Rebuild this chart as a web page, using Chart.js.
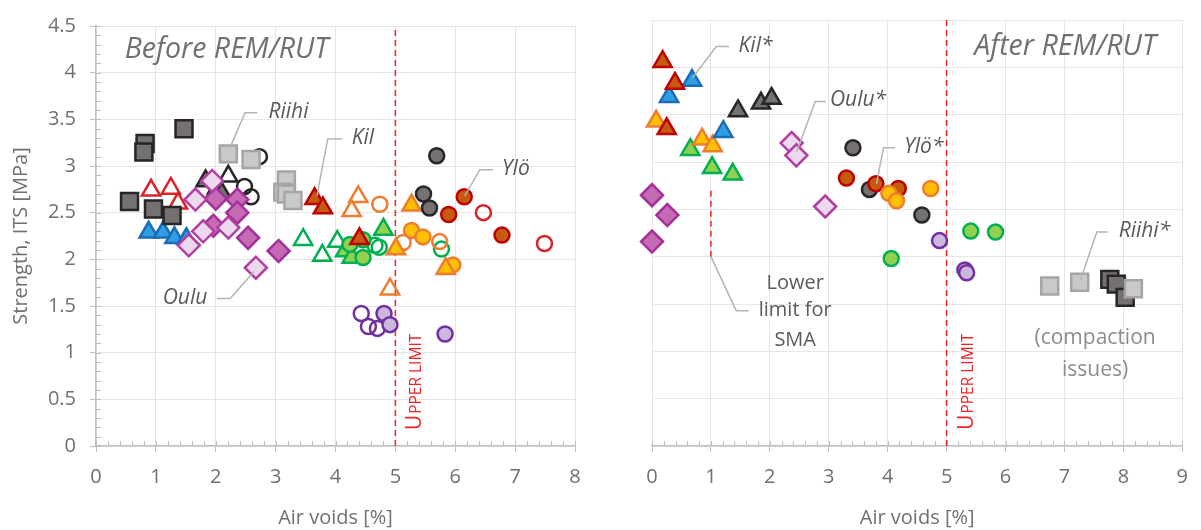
<!DOCTYPE html>
<html>
<head>
<meta charset="utf-8">
<script src="https://cdn.jsdelivr.net/npm/chart.js@4.4.1/dist/chart.umd.min.js"></script>
<style>
  body { margin: 0; background: #fff; }
  #wrap { position: relative; width: 1201px; height: 530px; }
  canvas { position: absolute; top: 0; }
</style>
</head>
<body>
<div id="wrap">
  <canvas id="before" width="600" height="530" style="left:0"></canvas>
  <canvas id="after" width="601" height="530" style="left:600px"></canvas>
</div>
<script>
// ---- data: [air voids %, ITS MPa] ----
// before REM/RUT
const riihiDarkBefore = [[0.56, 2.62], [0.82, 3.24], [0.80, 3.15], [0.96, 2.54], [1.27, 2.47], [1.47, 3.40]];
const riihiBefore = [[2.21, 3.13], [2.59, 3.07], [3.18, 2.85], [3.12, 2.72], [3.18, 2.70], [3.29, 2.63]];
const blackCircOpenBefore = [[2.73, 3.10], [2.48, 2.78], [2.59, 2.67]];
const blackTriOpenBefore = [[2.21, 2.89], [2.02, 2.76]];
const greyTriBefore = [[1.83, 2.84], [2.10, 2.71]];
const redTriOpenBefore = [[0.92, 2.74], [1.25, 2.76], [1.37, 2.60]];
const blueTriBefore = [[0.88, 2.29], [1.12, 2.29], [1.31, 2.23], [1.51, 2.22]];
const ouluDarkBefore = [[2.00, 2.65], [2.36, 2.64], [2.36, 2.50], [1.96, 2.36], [2.54, 2.23], [3.05, 2.09]];
const ouluBefore = [[1.94, 2.84], [1.66, 2.64], [1.79, 2.30], [1.55, 2.15], [2.21, 2.34], [2.67, 1.91]];
const greenTriOpenBefore = [[3.46, 2.21], [4.03, 2.19], [3.78, 2.04]];
const greenCircOpenBefore = [[4.66, 2.15], [4.73, 2.13], [5.77, 2.11]];
const orangeTriOpenBefore = [[4.38, 2.67], [4.27, 2.52], [4.91, 1.68]];
const orangeCircOpenBefore = [[4.74, 2.59], [5.13, 2.18], [5.74, 2.19]];
const purpleCircOpenBefore = [[4.43, 1.42], [4.55, 1.28], [4.70, 1.26]];
const redCircOpenBefore = [[6.47, 2.50], [7.49, 2.17]];
const greenTriBefore = [[4.16, 2.09], [4.27, 2.02], [4.80, 2.32]];
const greenCircBefore = [[4.24, 2.16], [4.46, 2.21], [4.46, 2.02]];
const purpleCircBefore = [[4.81, 1.42], [4.91, 1.30], [5.83, 1.20]];
const yellowCircBefore = [[5.27, 2.31], [5.46, 2.24], [5.96, 1.94]];
const yellowTriBefore = [[5.27, 2.58], [5.01, 2.11], [5.84, 1.90]];
const darkCircBefore = [[5.69, 3.11], [5.47, 2.70], [5.57, 2.55]];
const yloBefore = [[6.15, 2.67], [5.89, 2.48], [6.78, 2.26]];
const kilBefore = [[3.65, 2.65], [3.79, 2.55], [4.40, 2.22]];

// after REM/RUT
const kilAfter = [[0.18, 4.06], [0.39, 3.83], [0.25, 3.35]];
const blueTriAfter = [[0.68, 3.86], [0.29, 3.69], [1.21, 3.32]];
const greyTriAfter = [[1.46, 3.54], [1.85, 3.62], [2.03, 3.67]];
const yellowTriAfter = [[0.07, 3.43], [0.85, 3.24], [1.03, 3.17]];
const greenTriAfter = [[0.65, 3.13], [1.02, 2.94], [1.37, 2.87]];
const ouluDarkAfter = [[0.00, 2.65], [0.26, 2.44], [0.00, 2.16]];
const ouluAfter = [[2.37, 3.20], [2.45, 3.07], [2.94, 2.53]];
const darkCircAfter = [[3.41, 3.15], [3.69, 2.71], [4.58, 2.44]];
const yloAfter = [[3.30, 2.83], [3.80, 2.77], [4.18, 2.72]];
const yellowCircAfter = [[4.02, 2.67], [4.15, 2.59], [4.73, 2.72]];
const purpleCircAfter = [[4.88, 2.17], [5.31, 1.86], [5.34, 1.83]];
const greenCircAfter = [[4.06, 1.98], [5.41, 2.27], [5.83, 2.26]];
const riihiDarkAfter = [[7.77, 1.76], [7.88, 1.71], [8.03, 1.57]];
const riihiAfter = [[6.75, 1.69], [7.26, 1.73], [8.17, 1.66]];

const airVoidsMax = [8, 9];
const itsMax = 4.5;
const upperLimit = 5;
const smaLowerLimit = [1, 2.0, 2.71];

// ---- styling ----
const FONT = "'Open Sans', 'Noto Sans', sans-serif";
Chart.defaults.font.family = FONT;
const GREY = '#707070';
const NONE = 'rgba(0,0,0,0)';
const sizes = { rect: 12, circle: 7.5, triangle: 10.5, rectRot: 11 };

function layer(data, shape, fill, line) {
  return { data, shape, fill, line };
}

// listed bottom -> top
const beforeLayers = [
  layer(blackCircOpenBefore, 'circle', NONE, '#262626'),
  layer(blackTriOpenBefore, 'triangle', NONE, '#262626'),
  layer(greyTriBefore, 'triangle', '#767171', '#262626'),
  layer(redTriOpenBefore, 'triangle', NONE, '#d9232a'),
  layer(blueTriBefore, 'triangle', '#2f9fe3', '#1b6cb8'),
  layer(riihiDarkBefore, 'rect', '#767171', '#262626'),
  layer(riihiBefore, 'rect', '#c9c9c9', '#a5a5a5'),
  layer(ouluDarkBefore, 'rectRot', '#c66ab3', '#a3309a'),
  layer(ouluBefore, 'rectRot', '#ecd9ee', '#b13ea0'),
  layer(greenTriOpenBefore, 'triangle', NONE, '#00b050'),
  layer(greenCircOpenBefore, 'circle', NONE, '#00b050'),
  layer(orangeTriOpenBefore, 'triangle', NONE, '#ed7d31'),
  layer(orangeCircOpenBefore, 'circle', NONE, '#ed7d31'),
  layer(purpleCircOpenBefore, 'circle', NONE, '#7030a0'),
  layer(redCircOpenBefore, 'circle', NONE, '#d9232a'),
  layer(greenTriBefore, 'triangle', '#92d050', '#00b050'),
  layer(greenCircBefore, 'circle', '#92d050', '#00b050'),
  layer(purpleCircBefore, 'circle', '#cdb8dd', '#7030a0'),
  layer(yellowCircBefore, 'circle', '#ffc000', '#ed7d31'),
  layer(yellowTriBefore, 'triangle', '#ffc000', '#ed7d31'),
  layer(darkCircBefore, 'circle', '#767171', '#262626'),
  layer(yloBefore, 'circle', '#c55a11', '#c00000'),
  layer(kilBefore, 'triangle', '#c55a11', '#c00000')
];

const afterLayers = [
  layer(ouluDarkAfter, 'rectRot', '#c66ab3', '#a3309a'),
  layer(ouluAfter, 'rectRot', '#ecd9ee', '#b13ea0'),
  layer(greenTriAfter, 'triangle', '#92d050', '#00b050'),
  layer(yellowTriAfter, 'triangle', '#ffc000', '#ed7d31'),
  layer(greyTriAfter, 'triangle', '#767171', '#262626'),
  layer(blueTriAfter, 'triangle', '#2f9fe3', '#1b6cb8'),
  layer(kilAfter, 'triangle', '#c55a11', '#c00000'),
  layer(darkCircAfter, 'circle', '#767171', '#262626'),
  layer(yloAfter, 'circle', '#c55a11', '#c00000'),
  layer(yellowCircAfter, 'circle', '#ffc000', '#ed7d31'),
  layer(greenCircAfter, 'circle', '#92d050', '#00b050'),
  layer(purpleCircAfter, 'circle', '#cdb8dd', '#7030a0'),
  layer(riihiDarkAfter, 'rect', '#767171', '#262626'),
  layer(riihiAfter, 'rect', '#c9c9c9', '#a5a5a5')
];

// small tick marks inside the axes
const minorTicks = {
  id: 'minorTicks',
  beforeDatasetsDraw(chart, args, opts) {
    const { ctx, chartArea: a, scales: { x, y } } = chart;
    ctx.save();
    ctx.strokeStyle = '#bfbfbf';
    ctx.lineWidth = 1;
    ctx.beginPath();
    for (let i = 0; i <= x.max * 5; i++) {
      const px = Math.round(x.getPixelForValue(i / 5)) + 0.5;
      ctx.moveTo(px, a.bottom);
      ctx.lineTo(px, a.bottom - 5);
    }
    if (opts.y) {
      for (let i = 0; i <= itsMax * 10; i++) {
        const py = Math.round(y.getPixelForValue(i / 10)) + 0.5;
        ctx.moveTo(a.left, py);
        ctx.lineTo(a.left + 5, py);
      }
    }
    ctx.stroke();
    ctx.restore();
  }
};

// leader lines, labels, "UPPER LIMIT"
const notes = {
  id: 'notes',
  afterDatasetsDraw(chart, args, opts) {
    const { ctx, scales: { x, y } } = chart;
    ctx.save();
    ctx.strokeStyle = '#b4b4b4';
    ctx.lineWidth = 1.5;
    (opts.leaders || []).forEach(pts => {
      ctx.beginPath();
      pts.forEach(([a, b], i) => {
        const px = x.getPixelForValue(a), py = y.getPixelForValue(b);
        if (i) ctx.lineTo(px, py); else ctx.moveTo(px, py);
      });
      ctx.stroke();
    });
    ctx.textBaseline = 'middle';
    (opts.texts || []).forEach(t => {
      ctx.font = t.font;
      ctx.fillStyle = t.color;
      ctx.textAlign = t.align || 'left';
      ctx.fillText(t.text, x.getPixelForValue(t.x), y.getPixelForValue(t.y));
    });
    // small-caps "UPPER LIMIT"
    ctx.translate(x.getPixelForValue(upperLimit) + 26, y.getPixelForValue(0.17));
    ctx.rotate(-Math.PI / 2);
    ctx.fillStyle = '#f02424';
    ctx.textAlign = 'left';
    ctx.textBaseline = 'alphabetic';
    ctx.font = `21px ${FONT}`;
    ctx.fillText('U', 0, 0);
    const w = ctx.measureText('U').width;
    ctx.font = `15.5px ${FONT}`;
    ctx.fillText('PPER LIMIT', w + 1, 0);
    ctx.restore();
  }
};

const LABEL = `italic 21px ${FONT}`;
const TITLE = `italic 28.5px ${FONT}`;

function makeChart(id, layers, xMax, withY, extraLines, noteOpts) {
  const datasets = layers.map((l, i) => ({
    data: l.data.map(([x, y]) => ({ x, y })),
    pointStyle: l.shape,
    pointRadius: sizes[l.shape],
    pointHoverRadius: sizes[l.shape],
    pointBackgroundColor: l.fill,
    pointBorderColor: l.line,
    pointBorderWidth: 2.5,
    order: layers.length - i + 1,
    clip: false
  }));
  extraLines.forEach(seg => datasets.push({
    data: seg.map(([x, y]) => ({ x, y })),
    showLine: true,
    borderColor: '#f02424',
    borderWidth: 1.5,
    borderDash: [6, 4],
    pointRadius: 0,
    order: 1000
  }));

  return new Chart(document.getElementById(id), {
    type: 'scatter',
    data: { datasets },
    options: {
      responsive: false,
      animation: false,
      events: [],
      layout: { padding: { top: 20, right: withY ? 25 : 13, left: 0, bottom: 0 } },
      plugins: {
        legend: { display: false },
        tooltip: { enabled: false },
        minorTicks: { y: withY },
        notes: noteOpts
      },
      scales: {
        x: {
          type: 'linear', min: 0, max: xMax,
          ticks: { stepSize: 1, color: GREY, font: { size: 20 }, padding: 13 },
          grid: { color: '#e6e6e6', tickColor: '#bfbfbf', tickLength: 6 },
          border: { color: '#bfbfbf', width: 1.5 },
          title: { display: true, text: 'Air voids [%]', color: GREY, font: { size: 20 }, padding: 0 },
          afterFit: s => { s.height = 84; }
        },
        y: {
          type: 'linear', min: 0, max: itsMax,
          ticks: { stepSize: 0.5, display: withY, color: GREY, font: { size: 20 }, padding: 14,
                   callback: v => String(v) },
          grid: { color: '#e6e6e6', tickColor: '#bfbfbf', tickLength: withY ? 6 : 0, drawTicks: withY },
          border: { display: withY, color: '#bfbfbf', width: 1.5 },
          title: { display: withY, text: 'Strength, ITS [MPa]', color: GREY, font: { size: 20 }, padding: { top: 9 } },
          afterFit: s => { s.width = withY ? 96 : 52; }
        }
      }
    },
    plugins: [minorTicks, notes]
  });
}

makeChart('before', beforeLayers, airVoidsMax[0], true,
  [[[upperLimit, 0], [upperLimit, itsMax]]],
  {
    leaders: [
      [[2.24, 3.20], [2.49, 3.57], [2.69, 3.57]],
      [[3.69, 2.68], [3.87, 3.29], [4.11, 3.29]],
      [[6.16, 2.68], [6.41, 2.96], [6.63, 2.96]],
      [[2.64, 1.87], [2.24, 1.58], [2.02, 1.58]]
    ],
    texts: [
      { text: 'Before REM/RUT', x: 0.48, y: 4.24, font: TITLE, color: GREY },
      { text: 'Riihi', x: 2.88, y: 3.58, font: LABEL, color: '#595959' },
      { text: 'Kil', x: 4.27, y: 3.30, font: LABEL, color: '#595959' },
      { text: 'Ylö', x: 6.78, y: 2.97, font: LABEL, color: '#595959' },
      { text: 'Oulu', x: 1.86, y: 1.59, font: LABEL, color: '#595959', align: 'right' }
    ]
  });

makeChart('after', afterLayers, airVoidsMax[1], false,
  [[[upperLimit, 0], [upperLimit, itsMax]], [[smaLowerLimit[0], smaLowerLimit[1]], [smaLowerLimit[0], smaLowerLimit[2]]]],
  {
    leaders: [
      [[0.69, 3.89], [1.09, 4.22], [1.31, 4.22]],
      [[2.45, 3.10], [2.77, 3.64], [2.95, 3.64]],
      [[3.81, 2.77], [3.93, 3.15], [4.13, 3.15]],
      [[7.27, 1.75], [7.55, 2.26], [7.73, 2.26]],
      [[1.00, 2.00], [1.43, 1.43], [1.64, 1.43]]
    ],
    texts: [
      { text: 'After REM/RUT', x: 5.47, y: 4.22, font: TITLE, color: GREY },
      { text: 'Kil*', x: 1.47, y: 4.23, font: LABEL, color: '#595959' },
      { text: 'Oulu*', x: 3.02, y: 3.65, font: LABEL, color: '#595959' },
      { text: 'Ylö*', x: 4.28, y: 3.16, font: LABEL, color: '#595959' },
      { text: 'Riihi*', x: 7.92, y: 2.27, font: LABEL, color: '#595959' },
      { text: 'Lower', x: 2.43, y: 1.72, font: `20px ${FONT}`, color: '#595959', align: 'center' },
      { text: 'limit for', x: 2.43, y: 1.43, font: `20px ${FONT}`, color: '#595959', align: 'center' },
      { text: 'SMA', x: 2.43, y: 1.12, font: `20px ${FONT}`, color: '#595959', align: 'center' },
      { text: '(compaction', x: 7.52, y: 1.14, font: `21px ${FONT}`, color: '#8c8c8c', align: 'center' },
      { text: 'issues)', x: 7.52, y: 0.80, font: `21px ${FONT}`, color: '#8c8c8c', align: 'center' }
    ]
  });
</script>
</body>
</html>
